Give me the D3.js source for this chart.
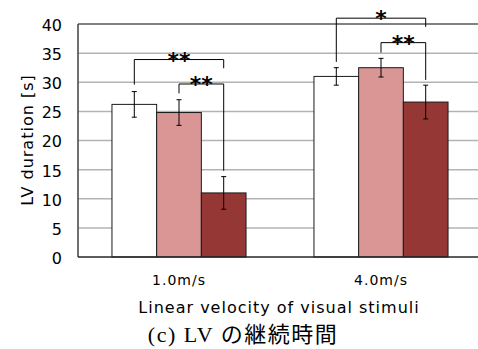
<!DOCTYPE html>
<html lang="ja">
<head>
    <meta charset="UTF-8">
    <title>LV duration</title>
    <script src="https://d3js.org/d3.v7.min.js"></script>
    <style>
        body { margin: 0; background: #fff; }
        svg { display: block; }
        .sans { font-family: "DejaVu Sans", sans-serif; fill: #000; }
    </style>
</head>
<body>
    <div id="chart"></div>

    <script>
        // data
        const categories = ["1.0m/s", "4.0m/s"];
        const seriesNames = ["A", "B", "C"];
        const seriesColors = ["#ffffff", "#d99694", "#953735"];
        const values = [
            [26.2, 24.8, 11.0],   // 1.0m/s
            [31.0, 32.5, 26.6]    // 4.0m/s
        ];
        const errors = [
            [2.2, 2.2, 2.8],
            [1.5, 1.6, 2.9]
        ];
        const yTicks = [0, 5, 10, 15, 20, 25, 30, 35, 40];

        // significance brackets: group, from series, to series, left leg bottom, top, right leg bottom, label
        const brackets = [
            [0, 0, 2, 29.6, 33.9, 32.4, "**"],
            [0, 1, 2, 28.1, 29.7, 14.8, "**"],
            [1, 0, 2, 33.5, 41.0, 39.5, "*"],
            [1, 1, 2, 35.1, 36.8, 30.4, "**"]
        ];

        const width = 478, height = 349;
        const margin = { top: 24, left: 78 };
        const plotRight = 482;   // right edge of plot falls just outside the picture

        const svg = d3.select("#chart")
            .append("svg")
            .attr("width", width)
            .attr("height", height);

        // scales
        const x0 = d3.scaleBand()
            .domain(categories)
            .range([margin.left, plotRight]);

        const x1 = d3.scaleBand()
            .domain(seriesNames)
            .range([0, x0.bandwidth()])
            .paddingOuter(0.76)
            .paddingInner(0);

        const y = d3.scaleLinear()
            .domain([0, 40])
            .range([257, margin.top]);

        // gridlines
        svg.append("g")
            .selectAll("line")
            .data(yTicks.filter(t => t > 0 && t < 40))
            .enter()
            .append("line")
            .attr("x1", margin.left)
            .attr("x2", plotRight)
            .attr("y1", d => y(d))
            .attr("y2", d => y(d))
            .style("stroke", "#b3b3b3")
            .style("stroke-width", 1.5);

        // top frame line
        svg.append("line")
            .attr("x1", margin.left).attr("x2", plotRight)
            .attr("y1", y(40)).attr("y2", y(40))
            .style("stroke", "#595959").style("stroke-width", 1.5);

        // bars
        const groups = svg.append("g")
            .selectAll("g")
            .data(categories)
            .enter()
            .append("g")
            .attr("transform", d => "translate(" + x0(d) + ",0)");

        groups.selectAll("rect")
            .data((d, i) => values[i].map((v, j) => ({ v: v, e: errors[i][j], s: seriesNames[j], c: seriesColors[j] })))
            .enter()
            .append("rect")
            .attr("x", d => x1(d.s))
            .attr("y", d => y(d.v))
            .attr("width", x1.bandwidth())
            .attr("height", d => y(0) - y(d.v))
            .style("fill", d => d.c)
            .style("stroke", "#1a1a1a")
            .style("stroke-width", 1);

        // error bars
        const eb = groups.selectAll("g.err")
            .data((d, i) => values[i].map((v, j) => ({ v: v, e: errors[i][j], s: seriesNames[j] })))
            .enter()
            .append("g")
            .attr("class", "err")
            .attr("transform", d => "translate(" + (x1(d.s) + x1.bandwidth() / 2) + ",0)");

        eb.append("line")
            .attr("x1", 0).attr("x2", 0)
            .attr("y1", d => y(d.v + d.e)).attr("y2", d => y(d.v - d.e))
            .style("stroke", "#000").style("stroke-width", 1);
        eb.append("line")
            .attr("x1", -2.5).attr("x2", 2.5)
            .attr("y1", d => y(d.v + d.e)).attr("y2", d => y(d.v + d.e))
            .style("stroke", "#000").style("stroke-width", 1);
        eb.append("line")
            .attr("x1", -2.5).attr("x2", 2.5)
            .attr("y1", d => y(d.v - d.e)).attr("y2", d => y(d.v - d.e))
            .style("stroke", "#000").style("stroke-width", 1);

        // axes frame (left and bottom)
        svg.append("line")
            .attr("x1", margin.left).attr("x2", margin.left)
            .attr("y1", y(40)).attr("y2", y(0))
            .style("stroke", "#404040").style("stroke-width", 1.5);
        svg.append("line")
            .attr("x1", margin.left).attr("x2", plotRight)
            .attr("y1", y(0)).attr("y2", y(0))
            .style("stroke", "#262626").style("stroke-width", 1.5);

        // significance brackets
        const cx = (g, s) => x0(categories[g]) + x1(seriesNames[s]) + x1.bandwidth() / 2;
        const br = svg.append("g")
            .selectAll("g")
            .data(brackets)
            .enter()
            .append("g");

        br.append("path")
            .attr("d", d => {
                const xa = cx(d[0], d[1]), xb = cx(d[0], d[2]);
                return "M" + xa + "," + y(d[3]) + "V" + y(d[4]) + "H" + xb + "V" + y(d[5]);
            })
            .style("fill", "none")
            .style("stroke", "#000")
            .style("stroke-width", 1);

        br.append("text")
            .attr("class", "sans")
            .attr("x", d => (cx(d[0], d[1]) + cx(d[0], d[2])) / 2)
            .attr("y", d => y(d[4]) + 8)
            .attr("text-anchor", "middle")
            .style("font-size", "22px")
            .style("font-weight", "bold")
            .text(d => d[6]);

        // y tick labels
        svg.append("g")
            .selectAll("text")
            .data(yTicks)
            .enter()
            .append("text")
            .attr("class", "sans")
            .attr("x", 62)
            .attr("y", d => y(d))
            .attr("dy", "0.43em")
            .attr("text-anchor", "end")
            .style("font-size", "16px")
            .text(d => d);

        // x tick labels
        svg.append("g")
            .selectAll("text")
            .data(categories)
            .enter()
            .append("text")
            .attr("class", "sans")
            .attr("x", d => x0(d) + x0.bandwidth() / 2)
            .attr("y", 285)
            .attr("text-anchor", "middle")
            .style("font-size", "14px")
            .style("letter-spacing", "1px")
            .text(d => d);

        // axis titles
        svg.append("text")
            .attr("class", "sans")
            .attr("transform", "translate(33,140) rotate(-90)")
            .attr("text-anchor", "middle")
            .style("font-size", "16px")
            .style("letter-spacing", "1px")
            .text("LV duration [s]");

        svg.append("text")
            .attr("class", "sans")
            .attr("x", 279)
            .attr("y", 313)
            .attr("text-anchor", "middle")
            .style("font-size", "16px")
            .style("letter-spacing", "1px")
            .text("Linear velocity of visual stimuli");

        // caption
        svg.append("text")
            .attr("x", 243)
            .attr("y", 342)
            .attr("text-anchor", "middle")
            .style("font-family", "'Liberation Serif', 'Noto Sans CJK JP', serif")
            .style("font-size", "22px")
            .style("letter-spacing", "1.5px")
            .text("(c) LV の継続時間");
    </script>
</body>
</html>
